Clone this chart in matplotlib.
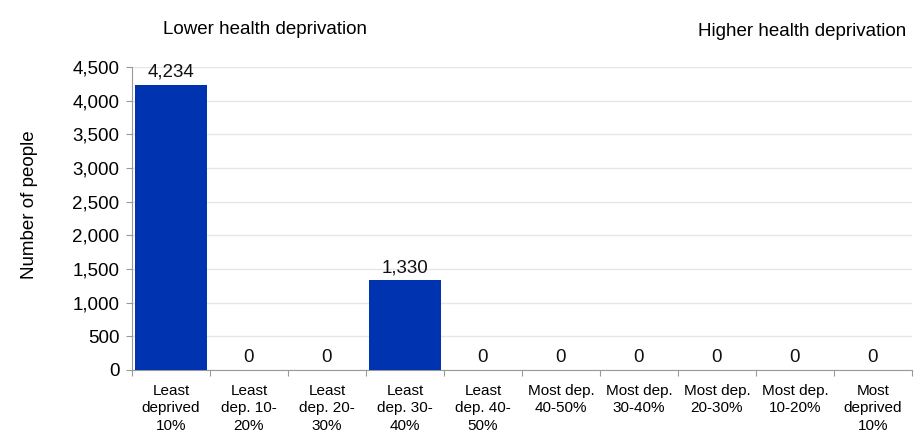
import matplotlib.pyplot as plt
import numpy as np

plt.rcParams['font.family'] = ['Liberation Sans', 'DejaVu Sans']

categories = ['Least\ndeprived\n10%', 'Least\ndep. 10-\n20%', 'Least\ndep. 20-\n30%',
              'Least\ndep. 30-\n40%', 'Least\ndep. 40-\n50%', 'Most dep.\n40-50%',
              'Most dep.\n30-40%', 'Most dep.\n20-30%', 'Most dep.\n10-20%',
              'Most\ndeprived\n10%']
people = [4234, 0, 0, 1330, 0, 0, 0, 0, 0, 0]
yticks = [0, 500, 1000, 1500, 2000, 2500, 3000, 3500, 4000, 4500]

fig = plt.figure(figsize=(9.21, 4.43), dpi=100)
ax = fig.add_axes([0.1433, 0.1648, 0.8467, 0.684])

x = np.arange(len(categories))
bars = ax.bar(x, people, width=0.93, color='#0033B0', zorder=3)
for xi, v in zip(x, people):
    ax.text(xi, v + 60, f'{v:,}', ha='center', va='bottom', fontsize=13.5, color='#111111')

ax.set_xlim(-0.5, len(categories) - 0.5)
ax.set_ylim(0, 4500)
ax.set_yticks(yticks)
ax.set_yticklabels([f'{t:,}' for t in yticks], fontsize=13.5)
ax.yaxis.grid(True, color='#e6e6e6', linewidth=1, zorder=0)

# category labels between the boundary ticks
ax.set_xticks(np.arange(len(categories) + 1) - 0.5)
ax.set_xticklabels([])
ax.set_xticks(x, minor=True)
ax.set_xticklabels(categories, minor=True, fontsize=11, linespacing=1.32)
ax.tick_params(axis='x', which='minor', length=0, pad=10)
ax.tick_params(axis='x', which='major', length=4, color='#999999')
ax.tick_params(axis='y', length=4, color='#999999', pad=5)

for s in ['top', 'right']:
    ax.spines[s].set_visible(False)
for s in ['left', 'bottom']:
    ax.spines[s].set_color('#999999')

ax.set_ylabel('Number of people', fontsize=13.5)
ax.yaxis.set_label_coords(-0.121, 0.545)

fig.text(265 / 921, 1 - 30 / 443, 'Lower health deprivation', ha='center', va='center', fontsize=13.5)
fig.text(906 / 921, 1 - 32 / 443, 'Higher health deprivation', ha='right', va='center', fontsize=13.5)

fig.savefig('out.png', dpi=100)
